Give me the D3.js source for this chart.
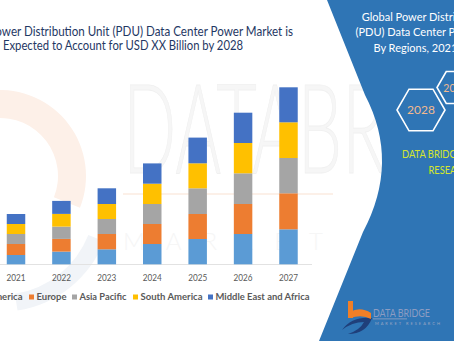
<!DOCTYPE html>
<html><head><meta charset="utf-8">
<script src="https://cdn.jsdelivr.net/npm/d3@7"></script>
<style>html,body{margin:0;padding:0;background:#fff;overflow:hidden}svg{display:block}text{font-family:Lato,"Open Sans",sans-serif}</style>
</head><body><svg id="c" width="454" height="341"></svg>
<script>
// ---- data ----
const years = ["2021","2022","2023","2024","2025","2026","2027"];
const regions = ["North America","Europe","Asia Pacific","South America","Middle East and Africa"];
const northAmerica = [9.3, 12.7, 15.0, 20.3, 25.3, 30.3, 35.0];
const europe       = [11.0, 12.7, 15.3, 20.0, 25.0, 30.0, 36.0];
const asiaPacific  = [10.0, 12.3, 15.0, 20.0, 25.7, 30.7, 35.3];
const southAmerica = [10.0, 12.7, 15.0, 20.3, 25.0, 30.3, 35.7];
const middleEast   = [10.0, 13.0, 15.7, 20.3, 25.7, 30.3, 35.0];
const colors = ["#5b9bd5","#ed7d31","#a5a5a5","#ffc000","#4472c4"];
const titleLines = ["Global Power Distribution Unit (PDU) Data Center Power Market is","Expected to Account for USD XX Billion by 2028"];
const panelTitle = ["Global Power Distribution Unit","(PDU) Data Center Power Market","By Regions, 2021 to 2028"];
const hexYears = ["2028","2021"];

const series = [northAmerica, europe, asiaPacific, southAmerica, middleEast];
const table = years.map((y,i)=>{const o={year:y}; regions.forEach((r,j)=>o[r]=series[j][i]); return o;});

const svg = d3.select("#c");

// ---- faint watermark ----
const wm = svg.append("g");
const ring = d3.arc().innerRadius(58).outerRadius(86).startAngle(-0.1).endAngle(Math.PI*0.62);
wm.append("path").attr("d", ring()).attr("transform","translate(0,176)").attr("fill","#fdf0e8");
const ring2 = d3.arc().innerRadius(95).outerRadius(112).startAngle(Math.PI*0.62).endAngle(Math.PI*0.95);
wm.append("path").attr("d", ring2()).attr("transform","translate(0,200)").attr("fill","#f1f4f8");
wm.append("text").text("DATABRI").attr("x",123).attr("y",173)
  .attr("font-size",124).attr("font-weight",300).attr("textLength",280).attr("lengthAdjust","spacingAndGlyphs")
  .attr("fill","#f6f6f6").attr("stroke","#f0f0f0").attr("stroke-width",0.8);
wm.append("rect").attr("x",123).attr("y",193).attr("width",210).attr("height",2).attr("fill","#fcf0e8");
wm.append("text").text("MARKET").attr("x",123).attr("y",250)
  .attr("font-size",24).attr("font-weight",300).attr("textLength",200).attr("lengthAdjust","spacing")
  .attr("fill","#f6f6f6");

// ---- chart ----
const x = d3.scaleBand().domain(years).range([-6.7, 311.2]).paddingInner(0.593).paddingOuter(0.2965);
const y = d3.scaleLinear().domain([0,180]).range([264.3, 84.3]);

svg.append("line").attr("x1",0).attr("x2",312).attr("y1",264.5).attr("y2",264.5)
  .attr("stroke","#e2e2e2").attr("stroke-width",1);

const stack = d3.stack().keys(regions)(table);
svg.append("g").selectAll("g").data(stack).join("g").attr("fill",(d,i)=>colors[i])
  .selectAll("rect").data(d=>d).join("rect")
  .attr("x",d=>x(d.data.year)).attr("width",x.bandwidth())
  .attr("y",d=>y(d[1])).attr("height",d=>y(d[0])-y(d[1]));

const xAxis = svg.append("g").attr("transform","translate(0,264.3)")
  .call(d3.axisBottom(x).tickSize(0).tickPadding(0));
xAxis.select(".domain").remove();
xAxis.selectAll("text").attr("y",16.7).attr("dy",0).attr("font-size",10).attr("fill","#595959")
  .attr("font-family","Lato").attr("textLength",19).attr("lengthAdjust","spacingAndGlyphs");

// legend
const legX = [-47, 29, 72, 133, 208];
const legW = [62, 30, 47, 62, 94];
const leg = svg.append("g").selectAll("g").data(regions).join("g")
  .attr("transform",(d,i)=>`translate(${legX[i]},0)`);
leg.append("rect").attr("x",0).attr("y",294.5).attr("width",5).attr("height",5).attr("fill",(d,i)=>colors[i]);
leg.append("text").attr("x",7.5).attr("y",300.3).text(d=>d).attr("font-size",9.5).attr("font-weight",700)
  .attr("fill","#595959").attr("textLength",(d,i)=>legW[i]).attr("lengthAdjust","spacingAndGlyphs");

// title
svg.append("g").selectAll("text").data(titleLines).join("text")
  .attr("x",123).attr("y",(d,i)=>35.7+i*14.3).attr("text-anchor","middle")
  .attr("font-size",12.5).attr("fill","#1f3864").text(d=>d)
  .attr("textLength",(d,i)=>[340,240][i]).attr("lengthAdjust","spacingAndGlyphs");

// ---- right panel ----
svg.append("path").attr("d","M327,0 L454,0 L454,341 L319,341 L363,232 Q400,162 365,95 Z").attr("fill","#2f75b5");

svg.append("g").selectAll("text").data(panelTitle).join("text")
  .attr("x",436).attr("y",(d,i)=>[20.7,36,51.5][i]).attr("text-anchor","middle")
  .attr("font-size",11).attr("fill","#ffffff").text(d=>d);

const hexes = [{cx:421,cy:110,r:24,fs:12},{cx:455.5,cy:87.5,r:18.5,fs:10.5}];
const hexPath = h => d3.line()(d3.range(6).map(k=>{const a=k*Math.PI/3; return [h.cx+h.r*Math.cos(a), h.cy+h.r*Math.sin(a)];}))+"Z";
svg.append("g").selectAll("path").data(hexes).join("path").attr("d",hexPath)
  .attr("fill","none").attr("stroke","#ffffff").attr("stroke-width",1.6);
svg.append("g").selectAll("text").data(hexes).join("text")
  .attr("x",d=>d.cx).attr("y",d=>d.cy+4.2).attr("text-anchor","middle").attr("font-size",d=>d.fs)
  .attr("fill","#f2b98f").text((d,i)=>hexYears[i]);

svg.append("g").selectAll("text").data(["DATA BRIDGE MARKET","RESEARCH"]).join("text")
  .attr("x",452).attr("y",(d,i)=>157.7+i*16.3).attr("text-anchor","middle")
  .attr("font-size",10.5).attr("fill","#d6e62b").text(d=>d)
  .attr("textLength",(d,i)=>[100,47][i]).attr("lengthAdjust","spacingAndGlyphs");

// logo
const lg = svg.append("g");
lg.append("path").attr("d","M342,330 Q352,316 372,318 Q366,334 348,334 Q360,330 364,322 Q352,322 342,330 Z").attr("fill","#1f3f7a");
lg.append("rect").attr("x",348).attr("y",301).attr("width",5).attr("height",17).attr("fill","#f07f27");
lg.append("path").attr("d","M350,312 Q360,306 371,313 L371,319 Q362,314 350,318 Z").attr("fill","#f07f27");
lg.append("text").attr("x",373).attr("y",317).text("DATA BRIDGE").attr("font-family","Liberation Serif")
  .attr("font-size",10.5).attr("fill","#8c9cc2").attr("textLength",57).attr("lengthAdjust","spacingAndGlyphs");
lg.append("rect").attr("x",373).attr("y",318.5).attr("width",34).attr("height",0.8).attr("fill","#9aa6c4");
lg.append("text").attr("x",375).attr("y",324.5).text("MARKET RESEARCH").attr("font-size",4)
  .attr("fill","#9aa6c4").attr("textLength",65).attr("lengthAdjust","spacing");
</script></body></html>
